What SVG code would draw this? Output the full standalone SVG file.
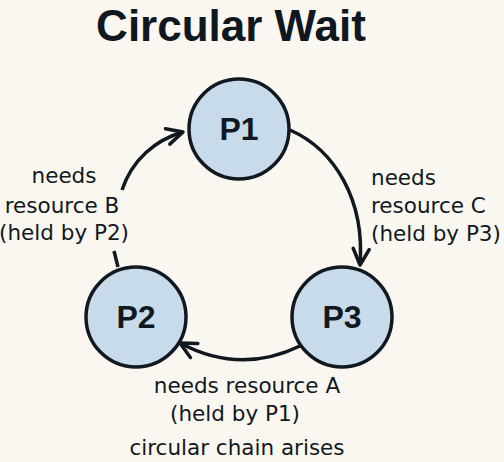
<svg xmlns="http://www.w3.org/2000/svg" width="504" height="462" viewBox="0 0 504 462">
<defs>
<style>
.node circle{fill:#c8dbea;stroke:#111820;stroke-width:3.5}
.node text{font-family:"Liberation Sans",Arial,sans-serif;font-weight:bold;font-size:32px;fill:#111820;text-anchor:middle}
.lbl{font-family:"DejaVu Sans","Liberation Sans",sans-serif;font-size:21.5px;fill:#111820}
.edge{fill:none;stroke:#111820;stroke-width:3.5}
</style>
<marker id="ah" viewBox="0 0 20 20" refX="18" refY="10" markerWidth="20" markerHeight="20" markerUnits="userSpaceOnUse" orient="auto">
<path d="M2,2 L18,10 L2,18" fill="none" stroke="#111820" stroke-width="3.5" stroke-linecap="round" stroke-linejoin="round"/>
</marker>
</defs>
<rect width="504" height="462" fill="#faf6f0"/>
<text x="231" y="41" font-family="Liberation Sans,Arial,sans-serif" font-weight="bold" font-size="44" fill="#0f1820" text-anchor="middle">Circular Wait</text>
<g id="connectors">
<path class="edge" d="M290,130 C335,150 365,200 360,265" marker-end="url(#ah)"/>
<path class="edge" d="M300,346 Q240,375 180,343" marker-end="url(#ah)"/>
<path class="edge" d="M118,267 L114,251"/>
<path class="edge" d="M122,190 C132,160 155,140 183,132" marker-end="url(#ah)"/>
</g>
<g id="P1" class="node"><circle cx="239" cy="129" r="50"/><text x="239" y="140">P1</text></g>
<g id="P2" class="node"><circle cx="136" cy="317" r="50"/><text x="136" y="328">P2</text></g>
<g id="P3" class="node"><circle cx="342" cy="317" r="50"/><text x="342" y="328">P3</text></g>
<g id="label-B" class="lbl" text-anchor="middle">
<text x="64" y="183">needs</text>
<text x="62" y="213">resource B</text>
<text x="64" y="240">(held by P2)</text>
</g>
<g id="label-C" class="lbl">
<text x="371" y="185">needs</text>
<text x="371" y="213">resource C</text>
<text x="371" y="241">(held by P3)</text>
</g>
<g id="label-A" class="lbl" text-anchor="middle">
<text x="247" y="393">needs resource A</text>
<text x="235" y="421">(held by P1)</text>
<text x="237" y="455">circular chain arises</text>
</g>
</svg>
